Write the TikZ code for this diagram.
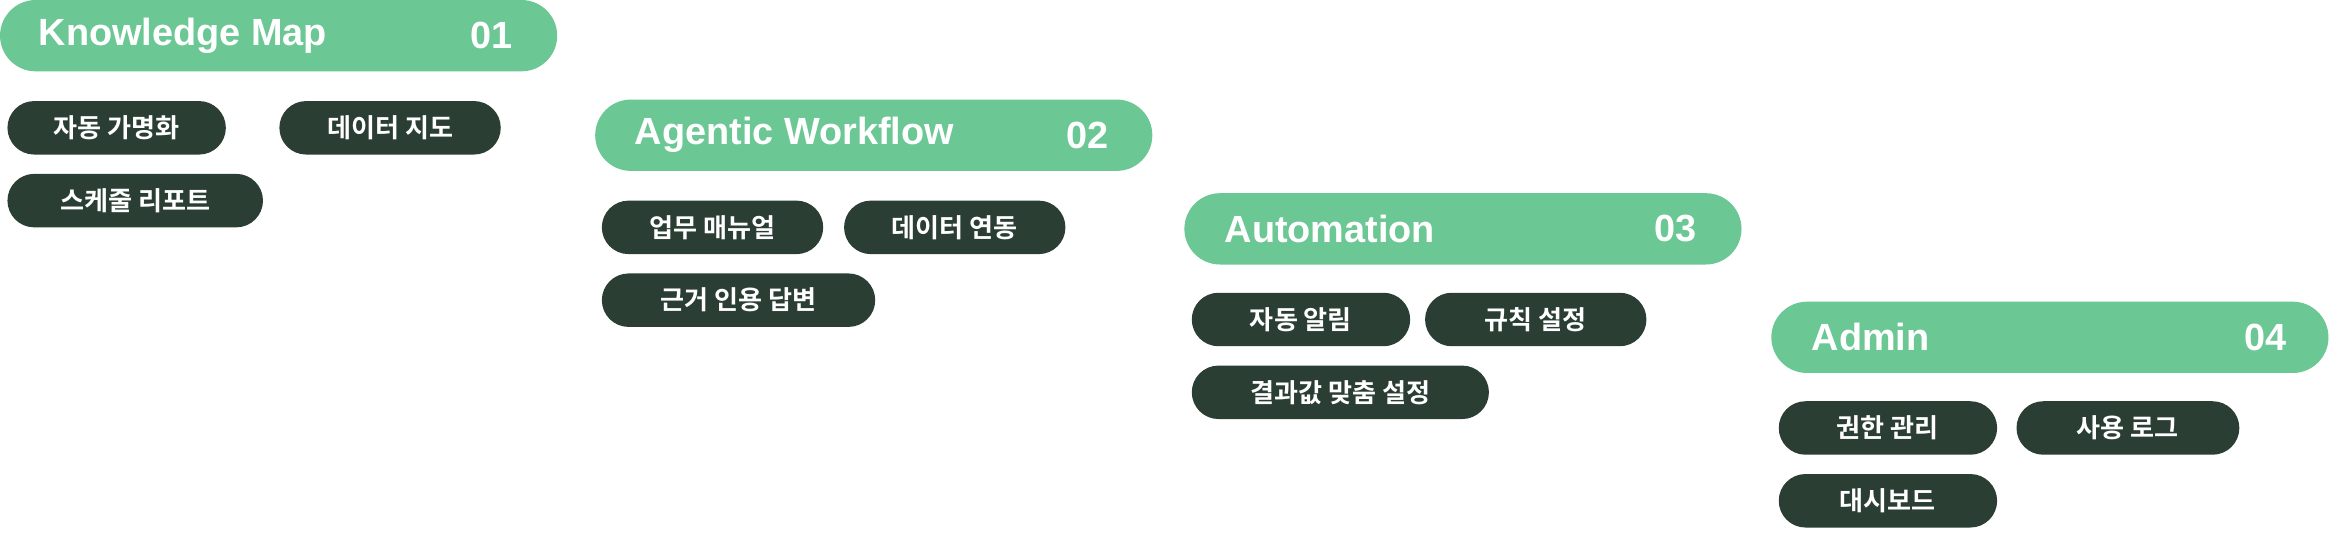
\documentclass[tikz,border=0pt]{standalone}
\usepackage{fontspec}
\setmainfont{Liberation Sans}
\newfontfamily\kr{Noto Sans CJK KR}[BoldFont={* Bold}]
\usetikzlibrary{positioning}
\definecolor{headgreen}{HTML}{6BC794}
\definecolor{tagdark}{HTML}{2B3E34}

\begin{document}
\begin{tikzpicture}[
    x=0.02cm, y=-0.02cm,
    head/.style={rectangle, rounded corners=0.48cm, fill=headgreen, minimum width=7.5cm, minimum height=0.96cm, inner sep=0pt},
    title/.style={font=\fontsize{14.5}{16}\selectfont\bfseries, text=white, anchor=west},
    num/.style={font=\fontsize{14.5}{16}\selectfont\bfseries, text=white, anchor=east},
    tag/.style={rectangle, rounded corners=0.36cm, fill=tagdark, text=white, minimum height=0.72cm, inner sep=0pt, font=\kr\fontsize{10}{12}\selectfont\bfseries}
]
\useasboundingbox (0,0) rectangle (1568,363);

% 01
\node[head] (h1) at (187.5,24) {};
\node[title] (t1) at (20,24) {Knowledge Map};
\node[num] (n1) at (351,24) {01};
\node[tag, minimum width=2.94cm] (k1) at (78.5,86) {자동 가명화};
\node[tag, minimum width=2.98cm] (k2) at (262.5,86) {데이터 지도};
\node[tag, minimum width=3.44cm] (k3) at (91,135) {스케줄 리포트};

% 02
\node[head] (h2) at (588,91) {};
\node[title] (t2) at (421,91) {Agentic Workflow};
\node[num] (n2) at (752,91) {02};
\node[tag, minimum width=2.98cm] (a1) at (479.5,153) {업무 매뉴얼};
\node[tag, minimum width=2.98cm] (a2) at (642.5,153) {데이터 연동};
\node[tag, minimum width=3.68cm] (a3) at (497,202) {근거 인용 답변};

% 03
\node[head] (h3) at (984.5,154) {};
\node[title] (t3) at (818,154) {Automation};
\node[num] (n3) at (1148,154) {03};
\node[tag, minimum width=2.94cm] (m1) at (875.5,215) {자동 알림};
\node[tag, minimum width=2.98cm] (m2) at (1033.5,215) {규칙 설정};
\node[tag, minimum width=4.0cm] (m3) at (902,264) {결과값 맞춤 설정};

% 04
\node[head] (h4) at (1379.5,227) {};
\node[title] (t4) at (1213,227) {Admin};
\node[num] (n4) at (1545,227) {04};
\node[tag, minimum width=2.94cm] (d1) at (1270.5,288) {권한 관리};
\node[tag, minimum width=3.0cm] (d2) at (1432,288) {사용 로그};
\node[tag, minimum width=2.94cm] (d3) at (1270.5,337) {대시보드};
\end{tikzpicture}
\end{document}
